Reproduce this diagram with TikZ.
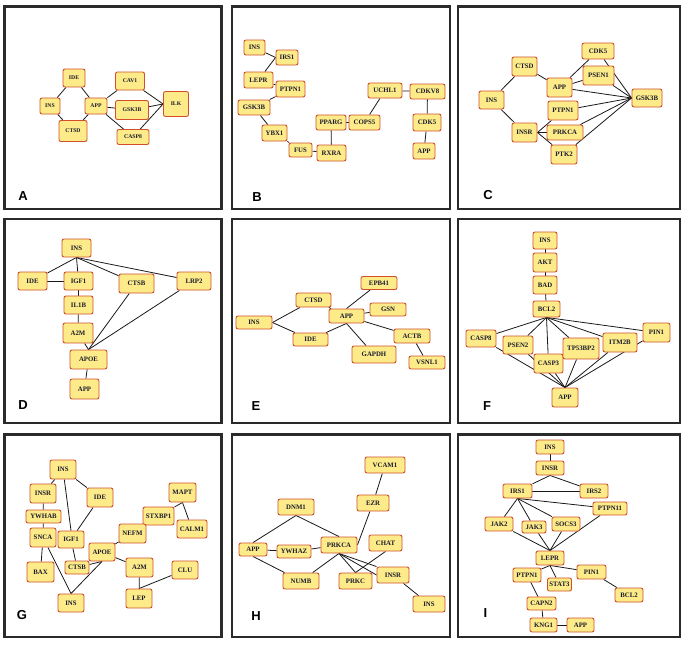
\documentclass[tikz,border=0pt]{standalone}
\usepackage{fontspec}
\setmainfont{Liberation Serif}
\setsansfont{Liberation Sans}
\usetikzlibrary{backgrounds}
\definecolor{nodefill}{HTML}{FCEB88}
\definecolor{nodeborder}{HTML}{D0502C}
\definecolor{nodetext}{HTML}{1A1A2E}
\definecolor{framecol}{HTML}{2A2A2A}
\tikzset{
  gn/.style={draw=nodeborder, fill=nodefill, rounded corners=2pt, line width=0.9pt,
    inner sep=0.5pt, text=nodetext, font=\fontsize{6.8}{7}\selectfont\bfseries},
  gnsmall/.style={gn, font=\fontsize{5.7}{6}\selectfont\bfseries},
  ed/.style={line width=0.8pt, draw=black!90},
  fr/.style={line width=2.8pt, draw=framecol},
  lab/.style={font=\sffamily\bfseries\fontsize{13}{13}\selectfont, inner sep=0pt}
}
\newcommand{\gnode}[6][gn]{\node[#1,minimum width=#5pt,minimum height=#6pt] (#2) at (#4) {#3};}
\begin{document}
\begin{tikzpicture}[x=1pt,y=-1pt]
\useasboundingbox (0,0) rectangle (685,646);
% frames
\draw[fr] (4.5,6.5) rectangle (221.5,209);
\draw[fr] (232,6.5) rectangle (450,209);
\draw[fr] (458,6.5) rectangle (680,209);
\draw[fr] (4.5,219) rectangle (221.5,423);
\draw[fr] (232,219) rectangle (450,423);
\draw[fr] (458,219) rectangle (680,423);
\draw[fr] (4.5,434.5) rectangle (221.5,637);
\draw[fr] (232,434.5) rectangle (450,637);
\draw[fr] (458,434.5) rectangle (680,637);
% labels
\node[lab] (labA) at (23,196) {A};
\node[lab] (labB) at (257,197) {B};
\node[lab] (labC) at (488,195) {C};
\node[lab] (labD) at (23,405) {D};
\node[lab] (labE) at (256,406) {E};
\node[lab] (labF) at (487,406) {F};
\node[lab] (labG) at (22,615) {G};
\node[lab] (labH) at (256,616) {H};
\node[lab] (labI) at (485.5,613) {I};
% ---------- Panel A
\gnode[gnsmall]{aIDE}{IDE}{74,78}{22}{18}
\gnode[gnsmall]{aINS}{INS}{50,106}{20}{16}
\gnode[gnsmall]{aCTSD}{CTSD}{73,131}{28}{21}
\gnode[gnsmall]{aAPP}{APP}{96,106}{22}{16}
\gnode[gnsmall]{aCAV1}{CAV1}{130,81}{29}{18}
\gnode[gnsmall]{aGSK3B}{GSK3B}{132,110}{33}{19}
\gnode[gnsmall]{aCASP8}{CASP8}{133,137}{32}{15}
\gnode[gnsmall]{aILK}{ILK}{176,104}{25}{25}
% ---------- Panel B
\gnode{bINS}{INS}{254.5,47.5}{21}{15}
\gnode{bIRS1}{IRS1}{287,57.5}{22}{15}
\gnode{bLEPR}{LEPR}{258.5,80}{29}{16}
\gnode{bPTPN1}{PTPN1}{290.5,89}{29}{16}
\gnode{bGSK3B}{GSK3B}{254,107.5}{32}{15}
\gnode{bYBX1}{YBX1}{274.5,133}{25}{16}
\gnode{bFUS}{FUS}{300.5,150}{23}{14}
\gnode{bRXRA}{RXRA}{331.5,153}{29}{16}
\gnode{bPPARG}{PPARG}{331,122.5}{30}{15}
\gnode{bCOPS5}{COPS5}{364.5,122.5}{31}{15}
\gnode{bUCHL1}{UCHL1}{385,90.5}{34}{15}
\gnode{bCDKV8}{CDKV8}{427.5,91.5}{35}{15}
\gnode{bCDK5}{CDK5}{427,122.5}{28}{17}
\gnode{bAPP}{APP}{424,151}{22}{16}
% ---------- Panel C
\gnode{cCDK5}{CDK5}{598,51}{32}{16}
\gnode{cCTSD}{CTSD}{524.5,66.5}{25}{19}
\gnode{cPSEN1}{PSEN1}{598.5,75.5}{31}{19}
\gnode{cAPP}{APP}{559.5,87.5}{25}{19}
\gnode{cINS}{INS}{491.5,100}{25}{18}
\gnode{cGSK3B}{GSK3B}{647,98}{30}{18}
\gnode{cPTPN1}{PTPN1}{563,110.5}{30}{19}
\gnode{cINSR}{INSR}{524.5,132.5}{25}{19}
\gnode{cPRKCA}{PRKCA}{565,132.5}{36}{15}
\gnode{cPTK2}{PTK2}{564,154.5}{26}{19}
% ---------- Panel D
\gnode{dINS}{INS}{76.5,248}{29}{18}
\gnode{dIDE}{IDE}{32.5,281}{29}{18}
\gnode{dIGF1}{IGF1}{78.5,281}{29}{18}
\gnode{dCTSB}{CTSB}{136.5,283.5}{35}{19}
\gnode{dLRP2}{LRP2}{194,281}{34}{18}
\gnode{dIL1B}{IL1B}{78.5,305}{29}{18}
\gnode{dA2M}{A2M}{78,333}{30}{20}
\gnode{dAPOE}{APOE}{88.5,359.5}{37}{19}
\gnode{dAPP}{APP}{84.5,389}{29}{20}
% ---------- Panel E
\gnode{eEPB41}{EPB41}{379,283}{36}{13}
\gnode{eCTSD}{CTSD}{313.5,300}{35}{14}
\gnode{eGSN}{GSN}{388,309.5}{36}{13}
\gnode{eAPP}{APP}{346.5,316}{35}{14}
\gnode{eINS}{INS}{254,322.5}{36}{13}
\gnode{eIDE}{IDE}{310.5,339.5}{35}{13}
\gnode{eACTB}{ACTB}{412,336}{36}{14}
\gnode{eGAPDH}{GAPDH}{374,354.5}{44}{17}
\gnode{eVSNL1}{VSNL1}{427,362.5}{36}{13}
% ---------- Panel F
\gnode{fINS}{INS}{545,240.5}{24}{17}
\gnode{fAKT}{AKT}{545,262.5}{24}{19}
\gnode{fBAD}{BAD}{545,285}{24}{18}
\gnode{fBCL2}{BCL2}{546.5,309}{27}{16}
\gnode{fCASP8}{CASP8}{481,338.5}{30}{17}
\gnode{fPSEN2}{PSEN2}{518,345}{30}{18}
\gnode{fCASP3}{CASP3}{548.5,363.5}{29}{19}
\gnode{fTP53BP2}{TP53BP2}{581,348.5}{36}{21}
\gnode{fITM2B}{ITM2B}{620,342.5}{34}{19}
\gnode{fPIN1}{PIN1}{656.5,332.5}{27}{19}
\gnode{fAPP}{APP}{565,397.5}{26}{19}
% ---------- Panel G
\gnode{gINSa}{INS}{63,469.5}{26}{19}
\gnode{gINSR}{INSR}{43,493.5}{26}{19}
\gnode{gIDE}{IDE}{100,497.5}{26}{19}
\gnode{gMAPT}{MAPT}{182.5,492.5}{27}{19}
\gnode{gYWHAB}{YWHAB}{43.5,516.5}{35}{13}
\gnode{gSTXBP1}{STXBP1}{158.5,516}{31}{18}
\gnode{gSNCA}{SNCA}{43,537.5}{26}{19}
\gnode{gIGF1}{IGF1}{71,539.5}{26}{17}
\gnode{gNEFM}{NEFM}{132.5,533.5}{27}{19}
\gnode{gCALM1}{CALM1}{192,529}{30}{18}
\gnode{gAPOE}{APOE}{102,552}{26}{18}
\gnode{gCTSB}{CTSB}{77,567.5}{24}{13}
\gnode{gBAX}{BAX}{40.5,572}{27}{20}
\gnode{gA2M}{A2M}{139.5,567.5}{27}{19}
\gnode{gCLU}{CLU}{185,570}{26}{18}
\gnode{gINSb}{INS}{71,603}{26}{18}
\gnode{gLEP}{LEP}{139,598.5}{26}{19}
% ---------- Panel H
\gnode{hVCAM1}{VCAM1}{385,465}{40}{16}
\gnode{hDNM1}{DNM1}{296,507}{36}{16}
\gnode{hEZR}{EZR}{373,503}{32}{16}
\gnode{hAPP}{APP}{253,549.5}{28}{13}
\gnode{hYWHAZ}{YWHAZ}{294,551.5}{34}{13}
\gnode{hPRKCA}{PRKCA}{339,545}{36}{16}
\gnode{hCHAT}{CHAT}{385.5,543}{33}{16}
\gnode{hNUMB}{NUMB}{301,581}{36}{16}
\gnode{hPRKC}{PRKC}{355.5,581}{33}{16}
\gnode{hINSR}{INSR}{393,575}{32}{16}
\gnode{hINS}{INS}{429,604}{32}{16}
% ---------- Panel I
\gnode{iINS}{INS}{550,447}{28}{14}
\gnode{iINSR}{INSR}{550,468}{28}{14}
\gnode{iIRS1}{IRS1}{517.5,491}{29}{14}
\gnode{iIRS2}{IRS2}{594,491}{28}{14}
\gnode{iPTPN11}{PTPN11}{610,508.5}{34}{13}
\gnode{iJAK2}{JAK2}{499,524}{28}{14}
\gnode{iJAK3}{JAK3}{534,527}{24}{12}
\gnode{iSOCS3}{SOCS3}{566,524}{28}{14}
\gnode{iLEPR}{LEPR}{550,558}{28}{14}
\gnode{iPIN1}{PIN1}{591.5,572}{29}{14}
\gnode{iPTPN1}{PTPN1}{527,575}{28}{14}
\gnode{iSTAT3}{STAT3}{559.5,584.5}{24}{13}
\gnode{iBCL2}{BCL2}{629,595}{28}{14}
\gnode{iCAPN2}{CAPN2}{541.5,603.5}{29}{13}
\gnode{iKNG1}{KNG1}{543.5,625}{27}{14}
\gnode{iAPP}{APP}{580.5,625}{27}{14}
% ---------- edges
\begin{scope}[on background layer]
% A
\draw[ed] (aINS) -- (aIDE);
\draw[ed] (aINS) -- (aCTSD);
\draw[ed] (aIDE) -- (aAPP);
\draw[ed] (aCTSD) -- (aAPP);
\draw[ed] (aAPP) -- (aCAV1);
\draw[ed] (aAPP) -- (aGSK3B);
\draw[ed] (aAPP) -- (aCASP8);
\draw[ed] (aCAV1) -- (aILK.west);
\draw[ed] (aGSK3B) -- (aILK.west);
\draw[ed] (aCASP8) -- (aILK.west);
% B
\draw[ed] (bINS) -- (bIRS1.west);
\draw[ed] (bIRS1.west) -- (bLEPR);
\draw[ed] (bLEPR) -- (bPTPN1);
\draw[ed] (bPTPN1) -- (bGSK3B);
\draw[ed] (bGSK3B) -- (bYBX1);
\draw[ed] (bYBX1) -- (bFUS);
\draw[ed] (bFUS) -- (bRXRA);
\draw[ed] (bRXRA) -- (bPPARG);
\draw[ed] (bPPARG) -- (bCOPS5);
\draw[ed] (bCOPS5) -- (bUCHL1);
\draw[ed] (bUCHL1) -- (bCDKV8);
\draw[ed] (bCDKV8) -- (bCDK5);
\draw[ed] (bCDK5) -- (bAPP);
% C
\draw[ed] (cINS) -- (cCTSD);
\draw[ed] (cINS) -- (cINSR);
\draw[ed] (cCTSD) -- (cAPP);
\draw[ed] (cAPP) -- (cCDK5);
\draw[ed] (cAPP) -- (cPSEN1);
\draw[ed] (cAPP) -- (cGSK3B.west);
\draw[ed] (cCDK5) -- (cGSK3B.west);
\draw[ed] (cPSEN1) -- (cGSK3B.west);
\draw[ed] (cPTPN1) -- (cGSK3B.west);
\draw[ed] (cPRKCA) -- (cGSK3B.west);
\draw[ed] (cPTK2) -- (cGSK3B.west);
\draw[ed] (cINSR.east) -- (cPTPN1);
\draw[ed] (cINSR.east) -- (cPRKCA);
\draw[ed] (cINSR.east) -- (cPTK2);
% D
\draw[ed] (dINS.south) -- (dIDE);
\draw[ed] (dINS.south) -- (dIGF1);
\draw[ed] (dINS.south) -- (dCTSB);
\draw[ed] (dINS.south) -- (dLRP2);
\draw[ed] (dIDE) -- (dIGF1);
\draw[ed] (dIGF1) -- (dIL1B);
\draw[ed] (dIL1B) -- (dA2M);
\draw[ed] (dA2M) -- (dAPOE.north);
\draw[ed] (dCTSB) -- (dAPOE.north);
\draw[ed] (dLRP2) -- (dAPOE.north);
\draw[ed] (dAPOE) -- (dAPP);
% E
\draw[ed] (eINS.east) -- (eCTSD);
\draw[ed] (eINS.east) -- (eIDE);
\draw[ed] (eCTSD) -- (eAPP);
\draw[ed] (eIDE) -- (eAPP.south);
\draw[ed] (eAPP.north) -- (eEPB41);
\draw[ed] (eAPP) -- (eGSN);
\draw[ed] (eAPP) -- (eACTB);
\draw[ed] (eAPP.south) -- (eGAPDH);
\draw[ed] (eACTB) -- (eVSNL1);
% F
\draw[ed] (fINS) -- (fAKT);
\draw[ed] (fAKT) -- (fBAD);
\draw[ed] (fBAD) -- (fBCL2);
\foreach \t in {CASP8,PSEN2,CASP3,TP53BP2,ITM2B,PIN1}{
  \draw[ed] (fBCL2.south) -- (f\t);
  \draw[ed] (fAPP.north) -- (f\t);
}
% G
\draw[ed] (gINSa) -- (gINSR);
\draw[ed] (gINSa) -- (gIDE);
\draw[ed] (gINSa) -- (gIGF1.north);
\draw[ed] (gINSR) -- (gYWHAB);
\draw[ed] (gYWHAB) -- (gSNCA);
\draw[ed] (gSNCA) -- (gBAX);
\draw[ed] (gSNCA) -- (gINSb.north);
\draw[ed] (gIDE) -- (gIGF1);
\draw[ed] (gIGF1) -- (gCTSB);
\draw[ed] (gCTSB) -- (gAPOE.south);
\draw[ed] (gINSb.north) -- (gAPOE.south);
\draw[ed] (gAPOE) -- (gNEFM);
\draw[ed] (gNEFM) -- (gSTXBP1);
\draw[ed] (gSTXBP1) -- (gMAPT.south);
\draw[ed] (gMAPT.south) -- (gCALM1);
\draw[ed] (gAPOE) -- (gA2M);
\draw[ed] (gA2M) -- (gLEP);
\draw[ed] (gLEP.north) -- (gCLU);
% H
\draw[ed] (hVCAM1) -- (hEZR);
\draw[ed] (hEZR) -- (hPRKCA.east);
\draw[ed] (hDNM1.south) -- (hAPP.north);
\draw[ed] (hDNM1.south) -- (hPRKCA.north);
\draw[ed] (hAPP) -- (hYWHAZ);
\draw[ed] (hYWHAZ) -- (hPRKCA);
\draw[ed] (hAPP.south) -- (hNUMB);
\draw[ed] (hNUMB) -- (hPRKCA.south);
\draw[ed] (hPRKCA.south) -- (hPRKC.north);
\draw[ed] (hPRKCA.south) -- (hINSR.west);
\draw[ed] (hPRKCA.south) -- (hINSR.north west);
\draw[ed] (hCHAT.south) -- (hPRKC.north);
\draw[ed] (hINSR) -- (hINS);
% I
\draw[ed] (iINS) -- (iINSR);
\draw[ed] (iINSR.south) -- (iIRS1);
\draw[ed] (iINSR.south) -- (iIRS2);
\draw[ed] (iIRS1) -- (iIRS2);
\foreach \t in {PTPN11,JAK2,JAK3,SOCS3}{
  \draw[ed] (iIRS1.south) -- (i\t);
  \draw[ed] (i\t) -- (iLEPR.north);
}
\draw[ed] (iLEPR.south) -- (iPTPN1);
\draw[ed] (iLEPR.south) -- (iSTAT3);
\draw[ed] (iLEPR.south) -- (iPIN1);
\draw[ed] (iPIN1) -- (iBCL2);
\draw[ed] (iPTPN1) -- (iCAPN2);
\draw[ed] (iCAPN2) -- (iKNG1);
\draw[ed] (iKNG1) -- (iAPP);
\end{scope}
\end{tikzpicture}
\end{document}
